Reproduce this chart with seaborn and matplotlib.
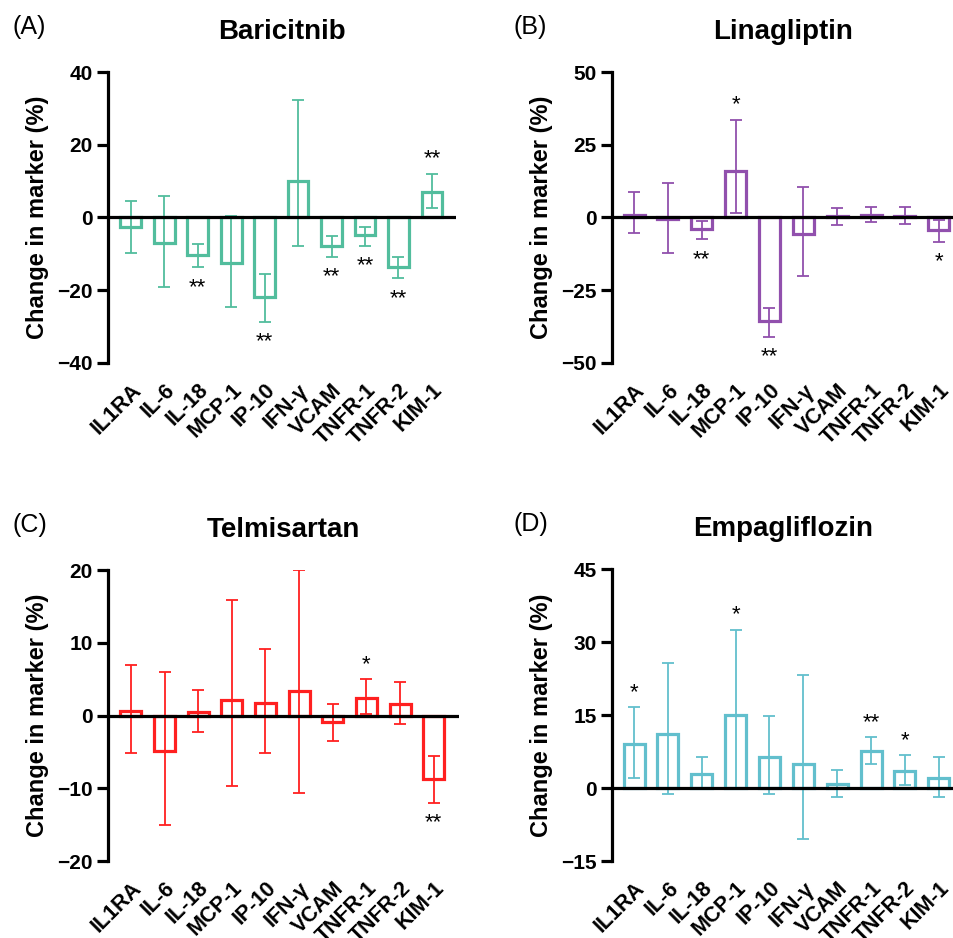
import numpy as np
import matplotlib
matplotlib.use("Agg")
import matplotlib.pyplot as plt
import seaborn as sns

# --- Data ---
markers = ["IL1RA", "IL-6", "IL-18", "MCP-1", "IP-10", "IFN-\u03b3", "VCAM", "TNFR-1", "TNFR-2", "KIM-1"]

bari_mean = [-2.6, -7.1, -10.3, -12.6, -21.9, 10.1, -7.8, -4.8, -13.5, 7.0]
bari_lo = [-9.8, -19.0, -13.7, -24.5, -28.7, -7.7, -10.8, -7.8, -16.7, 2.7]
bari_hi = [4.5, 5.8, -7.3, 0.5, -15.5, 32.2, -5.1, -2.5, -10.9, 12.0]
bari_sig = ["", "", "**", "", "**", "", "**", "**", "**", "**"]

lina_mean = [1.0, -0.5, -4.1, 16.1, -35.5, -5.8, 0.5, 0.9, 0.5, -4.4]
lina_lo = [-5.4, -12.2, -7.5, 1.5, -40.9, -20.0, -2.5, -1.4, -2.3, -8.4]
lina_hi = [8.7, 11.8, -1.3, 33.6, -31.1, 10.4, 3.3, 3.6, 3.6, -0.7]
lina_sig = ["", "", "**", "*", "**", "", "", "", "", "*"]

telm_mean = [0.6, -4.9, 0.5, 2.1, 1.7, 3.35, -0.9, 2.4, 1.6, -8.7]
telm_lo = [-5.1, -15.0, -2.2, -9.7, -5.1, -10.7, -3.5, 0.2, -1.1, -12.0]
telm_hi = [6.9, 6.0, 3.5, 15.9, 9.2, 20.0, 1.6, 5.0, 4.6, -5.5]
telm_sig = ["", "", "", "", "", "", "", "*", "", "**"]

empa_mean = [9.0, 11.1, 2.8, 15.1, 6.3, 4.9, 0.8, 7.6, 3.5, 2.1]
empa_lo = [2.1, -1.3, -0.2, 0.1, -1.3, -10.5, -1.9, 5.0, 0.7, -1.9]
empa_hi = [16.6, 25.6, 6.4, 32.5, 14.8, 23.3, 3.8, 10.5, 6.7, 6.4]
empa_sig = ["*", "", "", "*", "", "", "", "**", "*", ""]

panels = [
    ("(A)", "Baricitnib", bari_mean, bari_lo, bari_hi, bari_sig, "#52bd9d", (-40, 40), [-40, -20, 0, 20, 40]),
    ("(B)", "Linagliptin", lina_mean, lina_lo, lina_hi, lina_sig, "#9150ad", (-50, 50), [-50, -25, 0, 25, 50]),
    ("(C)", "Telmisartan", telm_mean, telm_lo, telm_hi, telm_sig, "#ff2020", (-20, 20), [-20, -10, 0, 10, 20]),
    ("(D)", "Empagliflozin", empa_mean, empa_lo, empa_hi, empa_sig, "#62bfcd", (-15, 45), [-15, 0, 15, 30, 45]),
]

sns.set_theme(style="white")
plt.rcParams["font.family"] = ["Liberation Sans", "DejaVu Sans"]
plt.rcParams["text.color"] = "black"
plt.rcParams["axes.labelcolor"] = "black"
plt.rcParams["xtick.color"] = "black"
plt.rcParams["ytick.color"] = "black"

W, H = 954, 938
fig = plt.figure(figsize=(W / 100, H / 100), dpi=100)

# axes boxes in pixels: left, top, right, bottom
boxes = [(108, 72, 456, 363), (612, 72, 954, 363), (108, 570, 459, 861), (612, 569, 954, 861)]
xlims = [(-0.68, 9.72), (-0.65, 9.45), (-0.68, 9.75), (-0.65, 9.45)]
letter_x = [12, 514, 12, 514]

for i, (letter, title, mean, lo, hi, sig, color, ylim, yticks) in enumerate(panels):
    l, t, r, b = boxes[i]
    ax = fig.add_axes([l / W, 1 - b / H, (r - l) / W, (b - t) / H])
    mean = np.array(mean)
    lo = np.array(lo)
    hi = np.array(hi)

    sns.barplot(x=markers, y=mean, color=color, fill=False, linewidth=2.3,
                width=0.62, errorbar=None, ax=ax)
    ax.errorbar(np.arange(len(markers)), mean, yerr=[mean - lo, hi - mean],
                fmt="none", ecolor=color, elinewidth=1.3, capsize=4.5, capthick=1.3)
    ax.axhline(0, color="black", lw=2.3, zorder=5)

    # significance stars
    for j, s in enumerate(sig):
        if not s:
            continue
        if mean[j] > 0:
            ax.annotate(s, (j, hi[j]), xytext=(0, 3), textcoords="offset points",
                        ha="center", va="bottom", fontsize=16, color="black")
        else:
            ax.annotate(s, (j, lo[j]), xytext=(0, -7), textcoords="offset points",
                        ha="center", va="top", fontsize=16, color="black")

    ax.set_ylim(*ylim)
    ax.set_yticks(yticks)
    ax.set_yticklabels([str(v).replace("-", "\u2212") for v in yticks],
                       fontsize=15, fontweight="bold")
    ax.set_xlim(*xlims[i])
    ax.set_xlabel("")
    ax.set_ylabel("Change in marker (%)", fontsize=17, fontweight="bold", labelpad=6)
    ax.set_xticks(range(len(markers)))
    ax.set_xticklabels(markers, rotation=45, ha="right", rotation_mode="anchor",
                       fontsize=15.5, fontweight="bold")
    ax.tick_params(axis="x", length=0, pad=12)
    ax.tick_params(axis="y", length=8, width=2.3, direction="out", left=True, pad=3)

    for side in ["top", "right", "bottom"]:
        ax.spines[side].set_visible(False)
    ax.spines["left"].set_linewidth(2.3)
    ax.spines["left"].set_color("black")
    ax.set_facecolor("none")

    ax.set_title(title, fontsize=20, fontweight="bold", pad=24)
    fig.text(letter_x[i] / W, 1 - (t - 45) / H, letter, fontsize=18, va="center", ha="left")

fig.savefig("out.png", dpi=100)
